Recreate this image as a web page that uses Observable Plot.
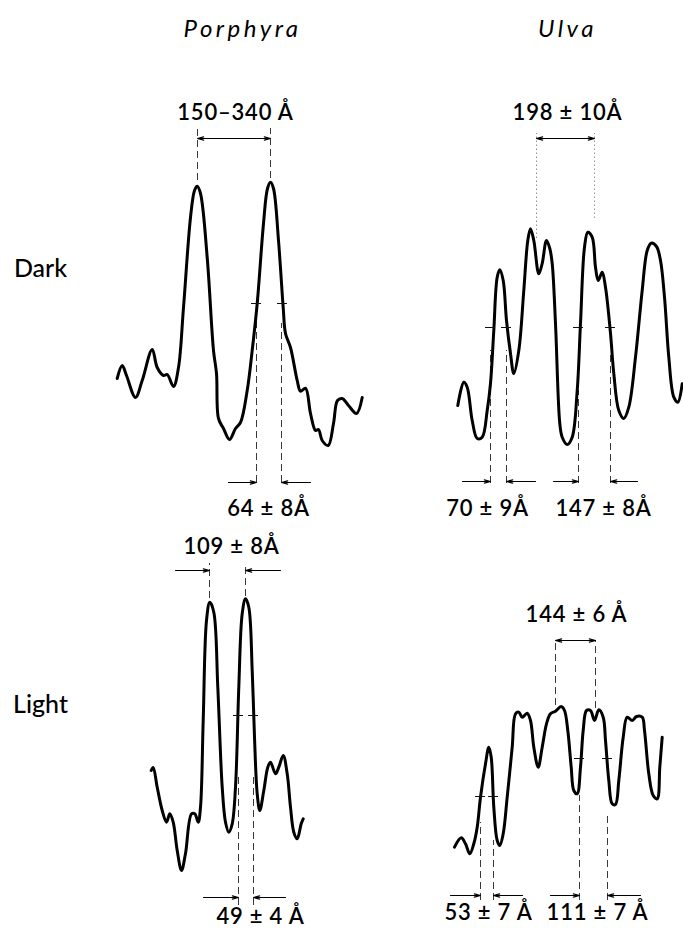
<!DOCTYPE html>
<html>
<head>
<meta charset="utf-8">
<script src="https://cdn.jsdelivr.net/npm/d3@7"></script>
<script src="https://cdn.jsdelivr.net/npm/@observablehq/plot@0.6"></script>
<style>
  html, body { margin: 0; padding: 0; background: #fff; }
  #chart svg { display: block; }
</style>
</head>
<body>
<div id="chart"></div>
<script>
// Panels
const species = ["Porphyra", "Ulva"];
const conditions = ["Dark", "Light"];

// Densitometer traces, [distance, optical density] in arbitrary panel units
const porphyraDark = [
  [116.7,87],[121.7,100],[126,90],[135,68],[141.7,85],[151.7,116],[156.7,98],[163,90],
  [166.7,91],[173,79],[178,98],[183,158],[190,248],[194,275],[196.7,279.3],[200,272],
  [206.7,208],[213,115],[216,92],[218,47],[223,37],[229,26],[235,37],[240,43],
  [246.7,75],[251.7,115],[256.7,162],[263,242],[267,277],[270,283.3],[273,277],[278,225],
  [282.7,158],[285,132],[290,118],[296.7,85],[300,74.3],[305,77.3],[310,52],[315,35],
  [318,36],[321.7,25],[327.7,20],[333,42],[337,65],[341.7,67],[348,60],[356,52],[361.7,68]
];
const ulvaDark = [
  [116.3,60],[122.3,83.3],[125.7,78.3],[130.7,45],[135.7,27],[140.7,28.3],[145.7,55],[149,82],
  [152.3,135],[155.7,188.3],[158.3,195.7],[161.7,185],[165,145],[169,112],[172.3,92],[177.3,115],
  [182.3,175],[186.3,225],[189,236.7],[192.3,225],[197.3,191.7],[200.7,202],[205,225],[208.3,217],
  [210.7,202],[214,142],[218.3,42],[220.7,28.3],[225.7,21],[230.7,28.3],[235.7,75],[239,142],
  [243,218.3],[246.3,233.3],[250.7,228.3],[254,198.3],[256.7,185],[260.7,193.3],[264,178.3],[269,132],
  [272.3,92],[277.3,55],[282.3,47],[287.3,58.3],[294,108.3],[300.7,175],[305.7,215],[309.7,222.3],
  [315,219],[319,205],[323,168.3],[327.3,108.3],[332.3,68.3],[336.3,63.3],[340.7,81.7]
];
const porphyraLight = [
  [150.7,160],[152.7,163],[156.7,143.3],[161.7,120],[166,108.3],[169.3,116.7],[172.7,108.3],[176.7,80],
  [181,60],[185,77],[191,116.7],[194.3,116.7],[197.7,108.3],[200,123.3],[202.7,210],[206,310],
  [209.3,328.3],[213.3,318.3],[217.3,243.3],[221.7,143.3],[225,108.3],[228.3,98.3],[231.7,106.7],[235,143.3],
  [238.3,243.3],[241.7,316.7],[245,331.7],[248.3,323.3],[251.7,260],[254,193.3],[256.7,136.7],[259.3,120],
  [263.3,140],[267.3,163.3],[270,168.3],[275,156.7],[278.3,163.3],[282.7,175],[286.7,156.7],[290,123.3],
  [293.3,98.3],[296.7,91.7],[300.7,106.7],[302.7,111.7]
];
const ulvaLight = [
  [113,83.3],[119.7,92.7],[124,86.7],[128.3,76.7],[132.3,86.7],[135.7,103.3],[139,133.3],[144,166.7],
  [147.3,183.3],[149.7,173.3],[152.3,123.3],[155.7,90],[158.3,85],[161.7,96.7],[165.7,133.3],[170.7,183.3],
  [174,216.7],[177.3,218.3],[180.7,213.3],[185.7,217.3],[189,210],[192.3,183.3],[196.7,163.3],[200.7,183.3],
  [205,206.7],[209,216.7],[214,219.3],[219.7,224],[223,220],[226.3,200],[229.7,163.3],[232.3,140],
  [235.7,136.7],[239,163.3],[241.7,200],[245,220],[249,220],[253,210],[257.3,220.7],[261.7,213.3],
  [264,190],[267.3,150],[270.7,126.7],[274,126],[277.3,150],[281.7,193.3],[285.7,213.3],[290.7,210],
  [295,214],[300.7,213.3],[303,200],[307.3,156.7],[311.7,135],[315.7,131.7],[318.3,163.3],[320.7,193.3]
];

// Guide lines marking measured peaks / half-heights: [species, condition, x, yFrom, yTo, dotted]
const guides = [
  ["Porphyra","Dark",197,285,337,false],["Porphyra","Dark",270,287,337,false],
  ["Porphyra","Dark",256,-17,147,false],["Porphyra","Dark",281,-17,142,false],
  ["Ulva","Dark",195,227,332,true],["Ulva","Dark",253,247,332,true],
  ["Ulva","Dark",149,-18,115,false],["Ulva","Dark",165,-18,115,false],
  ["Ulva","Dark",237,-18,75,false],["Ulva","Dark",269,-18,110,false],
  ["Porphyra","Light",209,332,367,false],["Porphyra","Light",245,334,367,false],
  ["Porphyra","Light",238,25,155,false],["Porphyra","Light",253,25,155,false],
  ["Ulva","Light",214,225,290,false],["Ulva","Light",254,222,290,false],
  ["Ulva","Light",139,30,108,false],["Ulva","Light",152,30,90,false],
  ["Ulva","Light",238,30,135,false],["Ulva","Light",266,30,115,false]
];

// Measurement arrows: [species, condition, from, to, level]
const arrows = [
  ["Porphyra","Dark",233.5,197,327],["Porphyra","Dark",233.5,270,327],
  ["Porphyra","Dark",228,256,-17],["Porphyra","Dark",310,281,-17],
  ["Ulva","Dark",224,195,327],["Ulva","Dark",224,253,327],
  ["Ulva","Dark",121,149,-16],["Ulva","Dark",194,165,-16],
  ["Ulva","Dark",212,237,-16],["Ulva","Dark",296,269,-16],
  ["Porphyra","Light",175,209,360],["Porphyra","Light",280,245,360],
  ["Porphyra","Light",203,238,33],["Porphyra","Light",285,253,33],
  ["Ulva","Light",234,214,290],["Ulva","Light",234,254,290],
  ["Ulva","Light",109,139,35],["Ulva","Light",181,152,35],
  ["Ulva","Light",209,238,35],["Ulva","Light",299,266,35]
];

// Half-height crossings: [species, condition, x, level]
const halfHeights = [
  ["Porphyra","Dark",256,162],["Porphyra","Dark",282,162],
  ["Ulva","Dark",149,138],["Ulva","Dark",165,138],["Ulva","Dark",237,138],["Ulva","Dark",269,138],
  ["Porphyra","Light",238,215],["Porphyra","Light",253,215],
  ["Ulva","Light",139,134],["Ulva","Light",152,134],["Ulva","Light",238,172],["Ulva","Light",266,172]
];

// Spacing labels: [species, condition, x, y, text]
const spacings = [
  ["Porphyra","Dark",235,353,"150–340 Å"],["Porphyra","Dark",268,-43,"64 ± 8Å"],
  ["Ulva","Dark",226,353,"198 ± 10Å"],["Ulva","Dark",146,-43,"70 ± 9Å"],["Ulva","Dark",262,-43,"147 ± 8Å"],
  ["Porphyra","Light",231,384,"109 ± 8Å"],["Porphyra","Light",260,14,"49 ± 4 Å"],
  ["Ulva","Light",235,316,"144 ± 6 Å"],["Ulva","Light",147,18,"53 ± 7 Å"],["Ulva","Light",256,18,"111 ± 7 Å"]
];

const traceTable = [
  ["Porphyra","Dark",porphyraDark],["Ulva","Dark",ulvaDark],
  ["Porphyra","Light",porphyraLight],["Ulva","Light",ulvaLight]
].flatMap(([s, c, pts]) => pts.map(([x, y]) => ({s, c, x, y, id: s + c})));

const font = "Lato, 'Noto Sans', sans-serif";
const guideRows = guides.map(([s,c,x,y1,y2,dotted]) => ({s,c,x,y1,y2,dotted}));

const chart = Plot.plot({
  width: 683,
  height: 930,
  marginTop: 0, marginRight: 1, marginBottom: 0, marginLeft: 0,
  fx: {domain: species, padding: 0, axis: null},
  fy: {domain: conditions, padding: 0, axis: null},
  x: {domain: [0, 341], axis: null},
  y: {domain: [0, 465], axis: null},
  style: {fontFamily: font, background: "#fff", overflow: "visible"},
  marks: [
    Plot.ruleX(guideRows.filter(d => !d.dotted), {
      fx: "s", fy: "c", x: "x", y1: "y1", y2: "y2",
      stroke: "#222", strokeWidth: 0.9, strokeDasharray: "7,4"
    }),
    Plot.ruleX(guideRows.filter(d => d.dotted), {
      fx: "s", fy: "c", x: "x", y1: "y1", y2: "y2",
      stroke: "#777", strokeWidth: 0.8, strokeDasharray: "1.5,2.5"
    }),
    Plot.arrow(arrows, {
      fx: d => d[0], fy: d => d[1], x1: d => d[2], x2: d => d[3], y1: d => d[4], y2: d => d[4],
      stroke: "#000", strokeWidth: 1.2, headLength: 8, headAngle: 30
    }),
    Plot.line(traceTable, {
      fx: "s", fy: "c", x: "x", y: "y", z: "id",
      curve: "catmull-rom", stroke: "#000", strokeWidth: 3, strokeLinejoin: "round", strokeLinecap: "round"
    }),
    Plot.ruleY(halfHeights, {
      fx: d => d[0], fy: d => d[1], y: d => d[3], x1: d => d[2] - 5, x2: d => d[2] + 5,
      stroke: "#111", strokeWidth: 1
    }),
    Plot.text(spacings, {
      fx: d => d[0], fy: d => d[1], x: d => d[2], y: d => d[3], text: d => d[4],
      fontSize: 22, fontWeight: 600, fill: "#000", fontFamily: font
    }),
    Plot.text(species, {
      fx: d => d, fy: () => "Dark", text: d => d,
      x: d => d === "Porphyra" ? 242 : 226, y: 436,
      fontSize: 24, fontStyle: "italic", fill: "#000", fontFamily: font
    }),
    Plot.text(conditions, {
      fx: () => "Porphyra", fy: d => d, text: d => d,
      x: 40, y: d => d === "Dark" ? 197 : 226,
      fontSize: 25, fontWeight: 500, fill: "#000", fontFamily: font
    })
  ]
});

const svg = d3.select(chart);
svg.selectAll("text")
  .filter(function() { return species.includes(this.textContent); })
  .attr("letter-spacing", "3.5px");
svg.selectAll("text")
  .filter(function() { return /Å/.test(this.textContent); })
  .attr("letter-spacing", "0.8px");

document.getElementById("chart").appendChild(chart);
</script>
</body>
</html>
